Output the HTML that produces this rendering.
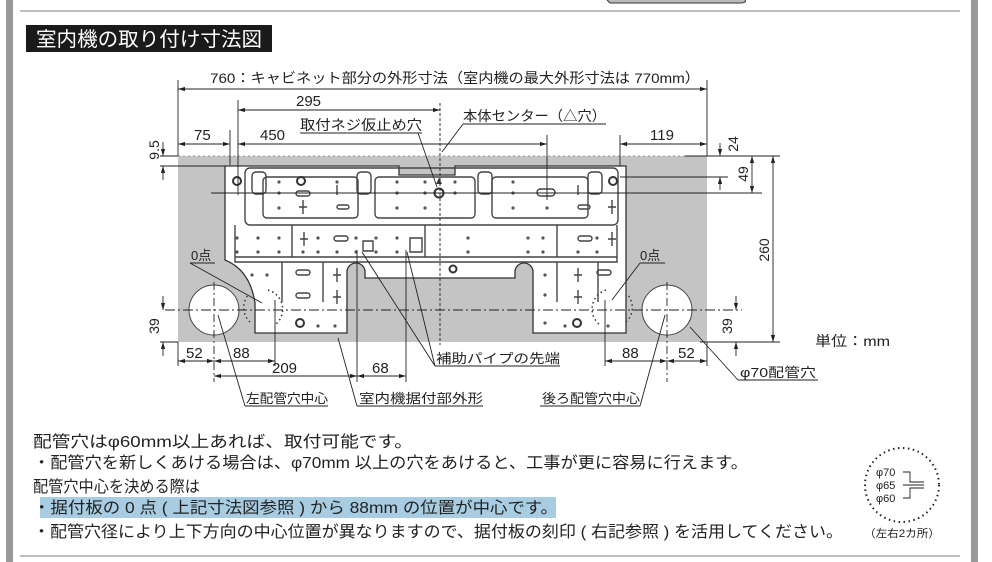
<!DOCTYPE html>
<html><head><meta charset="utf-8"><style>
html,body{margin:0;padding:0;background:#fff;}
svg{display:block;}
text{font-family:"Liberation Sans","Noto Sans CJK JP",sans-serif;fill:#222;}
</style></head><body>
<svg width="992" height="562" viewBox="0 0 992 562" xmlns="http://www.w3.org/2000/svg">
<defs>
<marker id="a" viewBox="0 0 10 6" refX="10" refY="3" markerWidth="8" markerHeight="5" orient="auto-start-reverse"><path d="M0,0L10,3L0,6z" fill="#222"/></marker>
</defs>
<rect x="6" y="0" width="7" height="562" fill="#9a9a9a"/>
<rect x="971" y="0" width="7" height="562" fill="#9a9a9a"/>
<line x1="20" y1="11" x2="960" y2="11" stroke="#aaa" stroke-width="1.5"/>
<line x1="20" y1="556" x2="960" y2="556" stroke="#aaa" stroke-width="1.5"/>
<path d="M607,0 L610,3 H740 Q747,3 745,0" fill="#bbb" stroke="#333" stroke-width="1"/>
<rect x="26" y="25" width="246" height="27" fill="#1a1a1a"/>
<text x="36" y="46" font-size="20" textLength="226" lengthAdjust="spacingAndGlyphs" style="fill:#fff">室内機の取り付け寸法図</text>

<rect x="178" y="156" width="529" height="186" fill="#c4c4c4"/>
<line x1="178" y1="156" x2="707" y2="156" stroke="#999" stroke-dasharray="2,3"/>
<circle cx="214" cy="310" r="25" fill="#fff" stroke="#444"/>
<circle cx="667" cy="310" r="25" fill="#fff" stroke="#444"/>

<g stroke="#333" fill="#fff" stroke-width="1.3">
<path d="M225,166 H399 V175 H455 V166 H626 V333 H533 V272 A9,9 0 0 0 515,272 V278 H365 V272 A9,9 0 0 0 347,272 V333 H255 V303 Q250,270 225,260 Z"/>
</g>
<g stroke="#444" fill="none" stroke-width="1.4">
<rect x="245" y="168" width="373" height="57" rx="5"/>
<rect x="263" y="177" width="95" height="41" rx="4"/>
<rect x="375" y="177" width="100" height="41" rx="4"/>
<rect x="492" y="177" width="96" height="41" rx="4"/>
<path d="M235,225 V262 H617 V225"/>
<line x1="235" y1="257" x2="617" y2="257"/>
<line x1="292" y1="225" x2="292" y2="257"/>
<line x1="425" y1="225" x2="425" y2="257"/>
<line x1="557" y1="225" x2="557" y2="257"/>
<line x1="282" y1="262" x2="282" y2="302"/>
<line x1="323" y1="262" x2="323" y2="302"/>
<line x1="557" y1="262" x2="557" y2="302"/>
<line x1="598" y1="262" x2="598" y2="302"/>
<rect x="252" y="172" width="14" height="22" rx="4"/>
<rect x="357" y="172" width="14" height="22" rx="4"/>
<rect x="478" y="172" width="14" height="22" rx="4"/>
<rect x="588" y="172" width="14" height="22" rx="4"/>
<rect x="296" y="191" width="14" height="5" rx="2.5"/>
<rect x="537" y="189" width="18" height="7" rx="3.5"/>
<rect x="334" y="236" width="14" height="5" rx="2.5"/>
<rect x="578" y="236" width="14" height="5" rx="2.5"/>
<rect x="296" y="270" width="14" height="5" rx="2.5"/>
<rect x="296" y="293" width="14" height="5" rx="2.5"/>
<rect x="597" y="270" width="14" height="5" rx="2.5"/>
<rect x="337" y="205" width="12" height="4" rx="2"/>
<rect x="578" y="205" width="12" height="4" rx="2"/>
<path d="M303,200 v14 M299,207 h8 M304,232 v14 M300,239 h8 M337,268 v14 M333,275 h8 M337,290 v14 M333,297 h8 M578,268 v14 M574,275 h8 M578,290 v14 M574,297 h8 M612,232 v14 M608,239 h8 M612,200 v14 M608,207 h8 M337,185 v10 M578,185 v10"/>
<path d="M363,241 h10 v10 h-10 z M410,238 h12 v14 h-12 z"/>
</g>
<g fill="#555">
<circle cx="279" cy="182" r="1.6"/><circle cx="279" cy="193" r="1.6"/><circle cx="279" cy="208" r="1.6"/>
<circle cx="337" cy="182" r="1.6"/><circle cx="397" cy="182" r="1.6"/><circle cx="397" cy="193" r="1.6"/><circle cx="397" cy="208" r="1.6"/>
<circle cx="425" cy="182" r="1.6"/><circle cx="425" cy="193" r="1.6"/><circle cx="425" cy="208" r="1.6"/>
<circle cx="455" cy="182" r="1.6"/><circle cx="455" cy="193" r="1.6"/>
<circle cx="513" cy="182" r="1.6"/><circle cx="513" cy="193" r="1.6"/><circle cx="513" cy="208" r="1.6"/>
<circle cx="547" cy="208" r="1.6"/>
<circle cx="237" cy="238" r="1.6"/><circle cx="258" cy="238" r="1.6"/><circle cx="279" cy="238" r="1.6"/>
<circle cx="237" cy="252" r="1.6"/><circle cx="258" cy="252" r="1.6"/><circle cx="279" cy="252" r="1.6"/>
<circle cx="318" cy="238" r="1.6"/><circle cx="356" cy="238" r="1.6"/><circle cx="376" cy="238" r="1.6"/><circle cx="397" cy="238" r="1.6"/>
<circle cx="303" cy="252" r="1.6"/><circle cx="318" cy="252" r="1.6"/><circle cx="337" cy="252" r="1.6"/><circle cx="356" cy="252" r="1.6"/><circle cx="376" cy="252" r="1.6"/><circle cx="397" cy="252" r="1.6"/>
<circle cx="468" cy="238" r="1.6"/><circle cx="468" cy="252" r="1.6"/><circle cx="528" cy="238" r="1.6"/><circle cx="543" cy="238" r="1.6"/><circle cx="528" cy="252" r="1.6"/><circle cx="543" cy="252" r="1.6"/>
<circle cx="597" cy="238" r="1.6"/><circle cx="597" cy="252" r="1.6"/><circle cx="578" cy="252" r="1.6"/>
<circle cx="252" cy="275" r="1.6"/><circle cx="267" cy="275" r="1.6"/><circle cx="545" cy="275" r="1.6"/><circle cx="545" cy="295" r="1.6"/>
<circle cx="318" cy="326" r="1.6"/><circle cx="335" cy="326" r="1.6"/><circle cx="545" cy="323" r="1.6"/><circle cx="565" cy="326" r="1.6"/><circle cx="608" cy="326" r="1.6"/>
</g>
<g fill="#fff" stroke="#333" stroke-width="2">
<circle cx="237" cy="181" r="4"/><circle cx="301" cy="181" r="4"/><circle cx="439" cy="193" r="4.5"/><circle cx="613" cy="181" r="4"/>
<circle cx="453" cy="269" r="3.5"/><circle cx="300" cy="323" r="4"/><circle cx="577" cy="323" r="4"/>
</g>
<path d="M439,178 l-3,6 h6z" fill="#333"/>
<path d="M268,290 A20,20 0 0 1 275,325 M250,322 A20,20 0 0 1 248,295" fill="none" stroke="#333" stroke-dasharray="1.5,3" stroke-width="1.5"/>
<path d="M606,290 A20,20 0 0 0 600,325 M626,322 A20,20 0 0 0 628,295" fill="none" stroke="#333" stroke-dasharray="1.5,3" stroke-width="1.5"/>

<g stroke="#222" stroke-width="0.9" fill="none">
<line x1="165" y1="310" x2="742" y2="310" stroke-dasharray="10,3,2,3"/>
<line x1="440" y1="103" x2="440" y2="345" stroke-dasharray="3,2"/>
<line x1="214" y1="282" x2="214" y2="382" stroke-dasharray="8,3,2,3"/>
<line x1="667" y1="282" x2="667" y2="382" stroke-dasharray="8,3,2,3"/>
<line x1="178" y1="80" x2="178" y2="156"/>
<line x1="707" y1="80" x2="707" y2="156"/>
<line x1="238" y1="100" x2="238" y2="195"/>
<line x1="230" y1="130" x2="230" y2="165"/>
<line x1="547" y1="135" x2="547" y2="200"/>
<line x1="620" y1="135" x2="620" y2="166"/>
<line x1="160" y1="156" x2="178" y2="156"/>
<line x1="160" y1="166" x2="225" y2="166"/>
<line x1="211" y1="193" x2="762" y2="193"/>
<line x1="620" y1="177" x2="728" y2="177"/>
<line x1="685" y1="156" x2="780" y2="156"/>
<line x1="700" y1="342" x2="780" y2="342"/>
<line x1="160" y1="342" x2="178" y2="342"/>
<line x1="178" y1="342" x2="178" y2="366"/>
<line x1="707" y1="342" x2="707" y2="366"/>
<line x1="275" y1="300" x2="275" y2="366"/>
<line x1="605" y1="300" x2="605" y2="366"/>
<line x1="357" y1="250" x2="357" y2="382"/>
<line x1="406" y1="250" x2="406" y2="382"/>
</g>
<g stroke="#222" stroke-width="0.9" marker-start="url(#a)" marker-end="url(#a)">
<line x1="178" y1="89" x2="707" y2="89"/>
<line x1="238" y1="110" x2="440" y2="110"/>
<line x1="178" y1="144" x2="230" y2="144"/>
<line x1="238" y1="144" x2="547" y2="144"/>
<line x1="620" y1="144" x2="707" y2="144"/>
<line x1="163" y1="142" x2="163" y2="156" marker-start="none"/>
<line x1="163" y1="180" x2="163" y2="166" marker-start="none"/>
<line x1="720" y1="143" x2="720" y2="156" marker-start="none"/>
<line x1="720" y1="190" x2="720" y2="177" marker-start="none"/>
<line x1="752" y1="156" x2="752" y2="193"/>
<line x1="773" y1="156" x2="773" y2="342"/>
<line x1="163" y1="296" x2="163" y2="310" marker-start="none"/>
<line x1="163" y1="356" x2="163" y2="342" marker-start="none"/>
<line x1="736" y1="296" x2="736" y2="310" marker-start="none"/>
<line x1="736" y1="356" x2="736" y2="342" marker-start="none"/>
<line x1="178" y1="361" x2="214" y2="361"/>
<line x1="214" y1="361" x2="275" y2="361"/>
<line x1="214" y1="376" x2="357" y2="376"/>
<line x1="357" y1="376" x2="406" y2="376"/>
<line x1="605" y1="361" x2="667" y2="361"/>
<line x1="667" y1="361" x2="707" y2="361"/>
</g>
<g stroke="#222" stroke-width="0.9" fill="none">
<path d="M422,133 H300 M418,133 L437,187" />
<path d="M463,124 H606 M463,124 L442,152"/>
<path d="M738,380 H818 M738,380 L690,327"/>
<path d="M190,263 H215 M190,263 L262,303"/>
<path d="M640,263 H665 M640,263 L612,300"/>
<path d="M245,406 H328 M245,406 L218,315"/>
<path d="M357,406 H483 M357,406 L338,338"/>
<path d="M540,406 H640 M640,406 L665,315"/>
<path d="M435,366 H560 M435,366 L362,252 M435,366 L407,252"/>
</g>
<g font-size="14">
<text x="210" y="83" textLength="490" lengthAdjust="spacingAndGlyphs">760：キャビネット部分の外形寸法（室内機の最大外形寸法は 770mm）</text>
<text x="296" y="106" font-size="15">295</text>
<text x="300" y="130" textLength="122" lengthAdjust="spacingAndGlyphs">取付ネジ仮止め穴</text>
<text x="463" y="121" textLength="143" lengthAdjust="spacingAndGlyphs">本体センター（△穴）</text>
<text x="194" y="140" font-size="15">75</text>
<text x="260" y="140" font-size="15">450</text>
<text x="650" y="140" font-size="15">119</text>
<text x="191" y="260" font-size="13">0点</text>
<text x="640" y="260" font-size="13">0点</text>
<text x="186" y="358" font-size="15">52</text>
<text x="233" y="358" font-size="15">88</text>
<text x="272" y="373" font-size="15">209</text>
<text x="372" y="373" font-size="15">68</text>
<text x="622" y="358" font-size="15">88</text>
<text x="678" y="358" font-size="15">52</text>
<text x="436" y="363" font-size="13" textLength="124" lengthAdjust="spacingAndGlyphs">補助パイプの先端</text>
<text x="246" y="403" font-size="13" textLength="82" lengthAdjust="spacingAndGlyphs">左配管穴中心</text>
<text x="359" y="403" font-size="13" textLength="124" lengthAdjust="spacingAndGlyphs">室内機据付部外形</text>
<text x="542" y="403" font-size="13" textLength="98" lengthAdjust="spacingAndGlyphs">後ろ配管穴中心</text>
<text x="740" y="377" font-size="13" textLength="76" lengthAdjust="spacingAndGlyphs">φ70配管穴</text>
<text x="815" y="346" textLength="75" lengthAdjust="spacingAndGlyphs">単位：mm</text>
<text transform="translate(159,150) rotate(-90)" text-anchor="middle">9.5</text>
<text transform="translate(159,326) rotate(-90)" text-anchor="middle">39</text>
<text transform="translate(738,144) rotate(-90)" text-anchor="middle">24</text>
<text transform="translate(748,174) rotate(-90)" text-anchor="middle">49</text>
<text transform="translate(769,250) rotate(-90)" text-anchor="middle">260</text>
<text transform="translate(732,326) rotate(-90)" text-anchor="middle">39</text>
</g>

<rect x="40" y="497" width="516" height="21" fill="#a8cde3"/>
<g font-size="16">
<text x="33" y="447" textLength="380" lengthAdjust="spacingAndGlyphs">配管穴はφ60mm以上あれば、取付可能です。</text>
<text x="33" y="468" textLength="715" lengthAdjust="spacingAndGlyphs">・配管穴を新しくあける場合は、φ70mm 以上の穴をあけると、工事が更に容易に行えます。</text>
<text x="33" y="492" textLength="167" lengthAdjust="spacingAndGlyphs">配管穴中心を決める際は</text>
<text x="33" y="513" textLength="525" lengthAdjust="spacingAndGlyphs">・据付板の 0 点 ( 上記寸法図参照 ) から  88mm の位置が中心です。</text>
<text x="33" y="537" textLength="810" lengthAdjust="spacingAndGlyphs">・配管穴径により上下方向の中心位置が異なりますので、据付板の刻印 ( 右記参照 ) を活用してください。</text>
</g>
<circle cx="902" cy="485" r="37" fill="none" stroke="#222" stroke-width="2" stroke-dasharray="1.5,3.5"/>
<g font-size="11">
<text x="876" y="476">φ70</text>
<text x="876" y="489">φ65</text>
<text x="876" y="502">φ60</text>
<text x="864" y="537" textLength="76" lengthAdjust="spacingAndGlyphs">（左右2カ所）</text>
</g>
<g stroke="#222" stroke-width="0.9" fill="none">
<path d="M903,472 h7 v10 h14 M903,485 h21 M903,498 h7 v-10 h14"/>
</g>
</svg>
</body></html>
